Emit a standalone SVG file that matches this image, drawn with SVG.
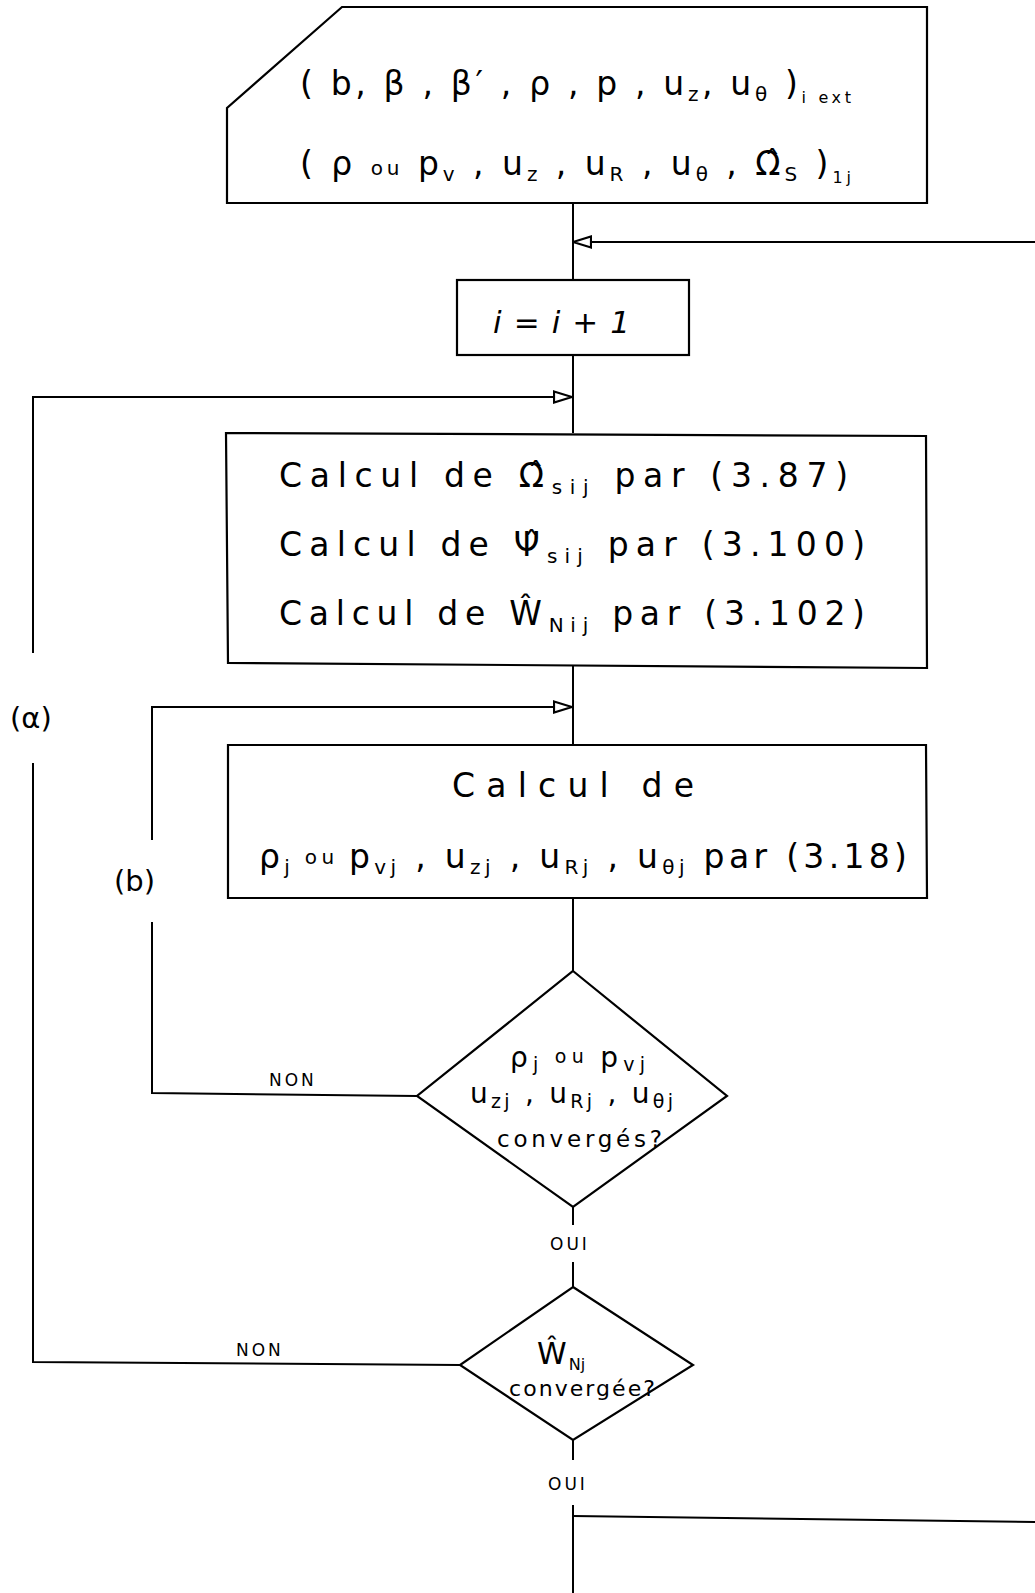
<svg xmlns="http://www.w3.org/2000/svg" width="1035" height="1593" viewBox="0 0 1035 1593">
<style>
  .shape{fill:#fff;stroke:#000;stroke-width:2.2;stroke-linejoin:miter}
  .conn{fill:none;stroke:#000;stroke-width:2}
  .t{font-family:"DejaVu Sans","Liberation Sans",sans-serif;fill:#000}
  .big{font-size:33px}
  .mid{font-size:28px}
  .lab{font-size:17px;letter-spacing:3px}
  .sub{font-size:20px}
  .ssub{font-size:16px}
  .dsub{font-size:19px}
</style>
<defs>
  <marker id="arr" viewBox="0 0 20 14" refX="19" refY="7" markerWidth="20" markerHeight="14" markerUnits="userSpaceOnUse" orient="auto">
    <path d="M1,1.5 L19,7 L1,12.5 Z" fill="#fff" stroke="#000" stroke-width="2.2"/>
  </marker>
</defs>
<rect width="1035" height="1593" fill="#fff"/>

<g id="connectors">
  <line class="conn" x1="573" y1="204" x2="573" y2="280"/>
  <line class="conn" x1="1035" y1="242" x2="573" y2="242" marker-end="url(#arr)"/>
  <line class="conn" x1="573" y1="355" x2="573" y2="433"/>
  <path class="conn" d="M33,653 V397 H572" marker-end="url(#arr)"/>
  <path class="conn" d="M460,1365 L33,1362 V763"/>
  <line class="conn" x1="573" y1="665" x2="573" y2="745"/>
  <path class="conn" d="M152,840 V707 H572" marker-end="url(#arr)"/>
  <path class="conn" d="M417,1096 L152,1093 V922"/>
  <line class="conn" x1="573" y1="898" x2="573" y2="971"/>
  <line class="conn" x1="573" y1="1207" x2="573" y2="1225"/>
  <line class="conn" x1="573" y1="1262" x2="573" y2="1287"/>
  <line class="conn" x1="573" y1="1440" x2="573" y2="1460"/>
  <line class="conn" x1="573" y1="1505" x2="573" y2="1593"/>
  <path class="conn" d="M573,1516 L1035,1522"/>
  <text class="t lab" x="269" y="1086">NON</text>
  <text class="t lab" x="236" y="1356">NON</text>
  <text class="t lab" x="550" y="1250">OUI</text>
  <text class="t lab" x="548" y="1490">OUI</text>
  <text class="t" style="font-size:29px" x="10" y="728">(α)</text>
  <text class="t" style="font-size:29px" x="114" y="891">(b)</text>
</g>

<g id="input">
  <polygon class="shape" points="342,7 927,7 927,203 227,203 227,108"/>
  <text class="t big" x="300" y="95" textLength="551" lengthAdjust="spacing">( b, β , β′ , ρ , p , u<tspan class="sub" dy="6">z</tspan><tspan dy="-6">, u</tspan><tspan class="sub" dy="6">θ</tspan><tspan dy="-6"> )</tspan><tspan class="ssub" dy="8">i ext</tspan></text>
  <text class="t big" x="300" y="175" textLength="551" lengthAdjust="spacing">( ρ <tspan class="sub">ou</tspan> p<tspan class="sub" dy="6">v</tspan><tspan dy="-6"> , u</tspan><tspan class="sub" dy="6">z</tspan><tspan dy="-6"> , u</tspan><tspan class="sub" dy="6">R</tspan><tspan dy="-6"> , u</tspan><tspan class="sub" dy="6">θ</tspan><tspan dy="-6"> , Ω̂</tspan><tspan class="sub" dy="6">S</tspan><tspan dy="-6"> )</tspan><tspan class="ssub" dy="8">1j</tspan></text>
</g>

<g id="incr">
  <rect class="shape" x="457" y="280" width="232" height="75"/>
  <text class="t" style="font-size:31px;font-style:italic" x="493" y="333" textLength="137" lengthAdjust="spacing">i = i + 1</text>
</g>

<g id="calc1">
  <polygon class="shape" points="226,433 926,436 927,668 228,663"/>
  <text class="t big" x="279" y="487" textLength="569" lengthAdjust="spacing">Calcul de Ω̂<tspan class="sub" dy="7">sij</tspan><tspan dy="-7"> par  (3.87)</tspan></text>
  <text class="t big" x="279" y="556" textLength="586" lengthAdjust="spacing">Calcul de Ψ̂<tspan class="sub" dy="7">sij</tspan><tspan dy="-7"> par (3.100)</tspan></text>
  <text class="t big" x="279" y="625" textLength="586" lengthAdjust="spacing">Calcul de Ŵ<tspan class="sub" dy="7">Nij</tspan><tspan dy="-7"> par (3.102)</tspan></text>
</g>

<g id="calc2">
  <polygon class="shape" points="228,745 926,745 927,898 228,898"/>
  <text class="t big" x="452" y="797" textLength="242" lengthAdjust="spacing">Calcul de</text>
  <text class="t big" x="259" y="868" textLength="648" lengthAdjust="spacing">ρ<tspan class="sub" dy="6">j</tspan><tspan class="sub" dy="-10"> ou </tspan><tspan dy="4">p</tspan><tspan class="sub" dy="6">vj</tspan><tspan dy="-6"> , u</tspan><tspan class="sub" dy="6">zj</tspan><tspan dy="-6"> , u</tspan><tspan class="sub" dy="6">Rj</tspan><tspan dy="-6"> , u</tspan><tspan class="sub" dy="6">θj</tspan><tspan dy="-6"> par (3.18)</tspan></text>
</g>

<g id="test1">
  <polygon class="shape" points="573,971 727,1096 573,1207 417,1096"/>
  <text class="t mid" x="510" y="1067" textLength="135" lengthAdjust="spacing">ρ<tspan class="dsub" dy="4">j</tspan><tspan class="dsub" dy="-8"> ou </tspan><tspan dy="4">p</tspan><tspan class="dsub" dy="4">vj</tspan></text>
  <text class="t mid" x="470" y="1103" textLength="203" lengthAdjust="spacing">u<tspan class="dsub" dy="5">zj</tspan><tspan dy="-5"> , u</tspan><tspan class="dsub" dy="5">Rj</tspan><tspan dy="-5"> , u</tspan><tspan class="dsub" dy="5">θj</tspan></text>
  <text class="t" style="font-size:23px" x="497" y="1147" textLength="165" lengthAdjust="spacing">convergés?</text>
</g>

<g id="test2">
  <polygon class="shape" points="573,1287 693,1365 573,1440 460,1365"/>
  <text class="t" style="font-size:30px" x="537" y="1364">Ŵ<tspan class="ssub" dy="6" dx="2">Nj</tspan></text>
  <text class="t" style="font-size:22px" x="509" y="1396" textLength="146" lengthAdjust="spacing">convergée?</text>
</g>
</svg>
